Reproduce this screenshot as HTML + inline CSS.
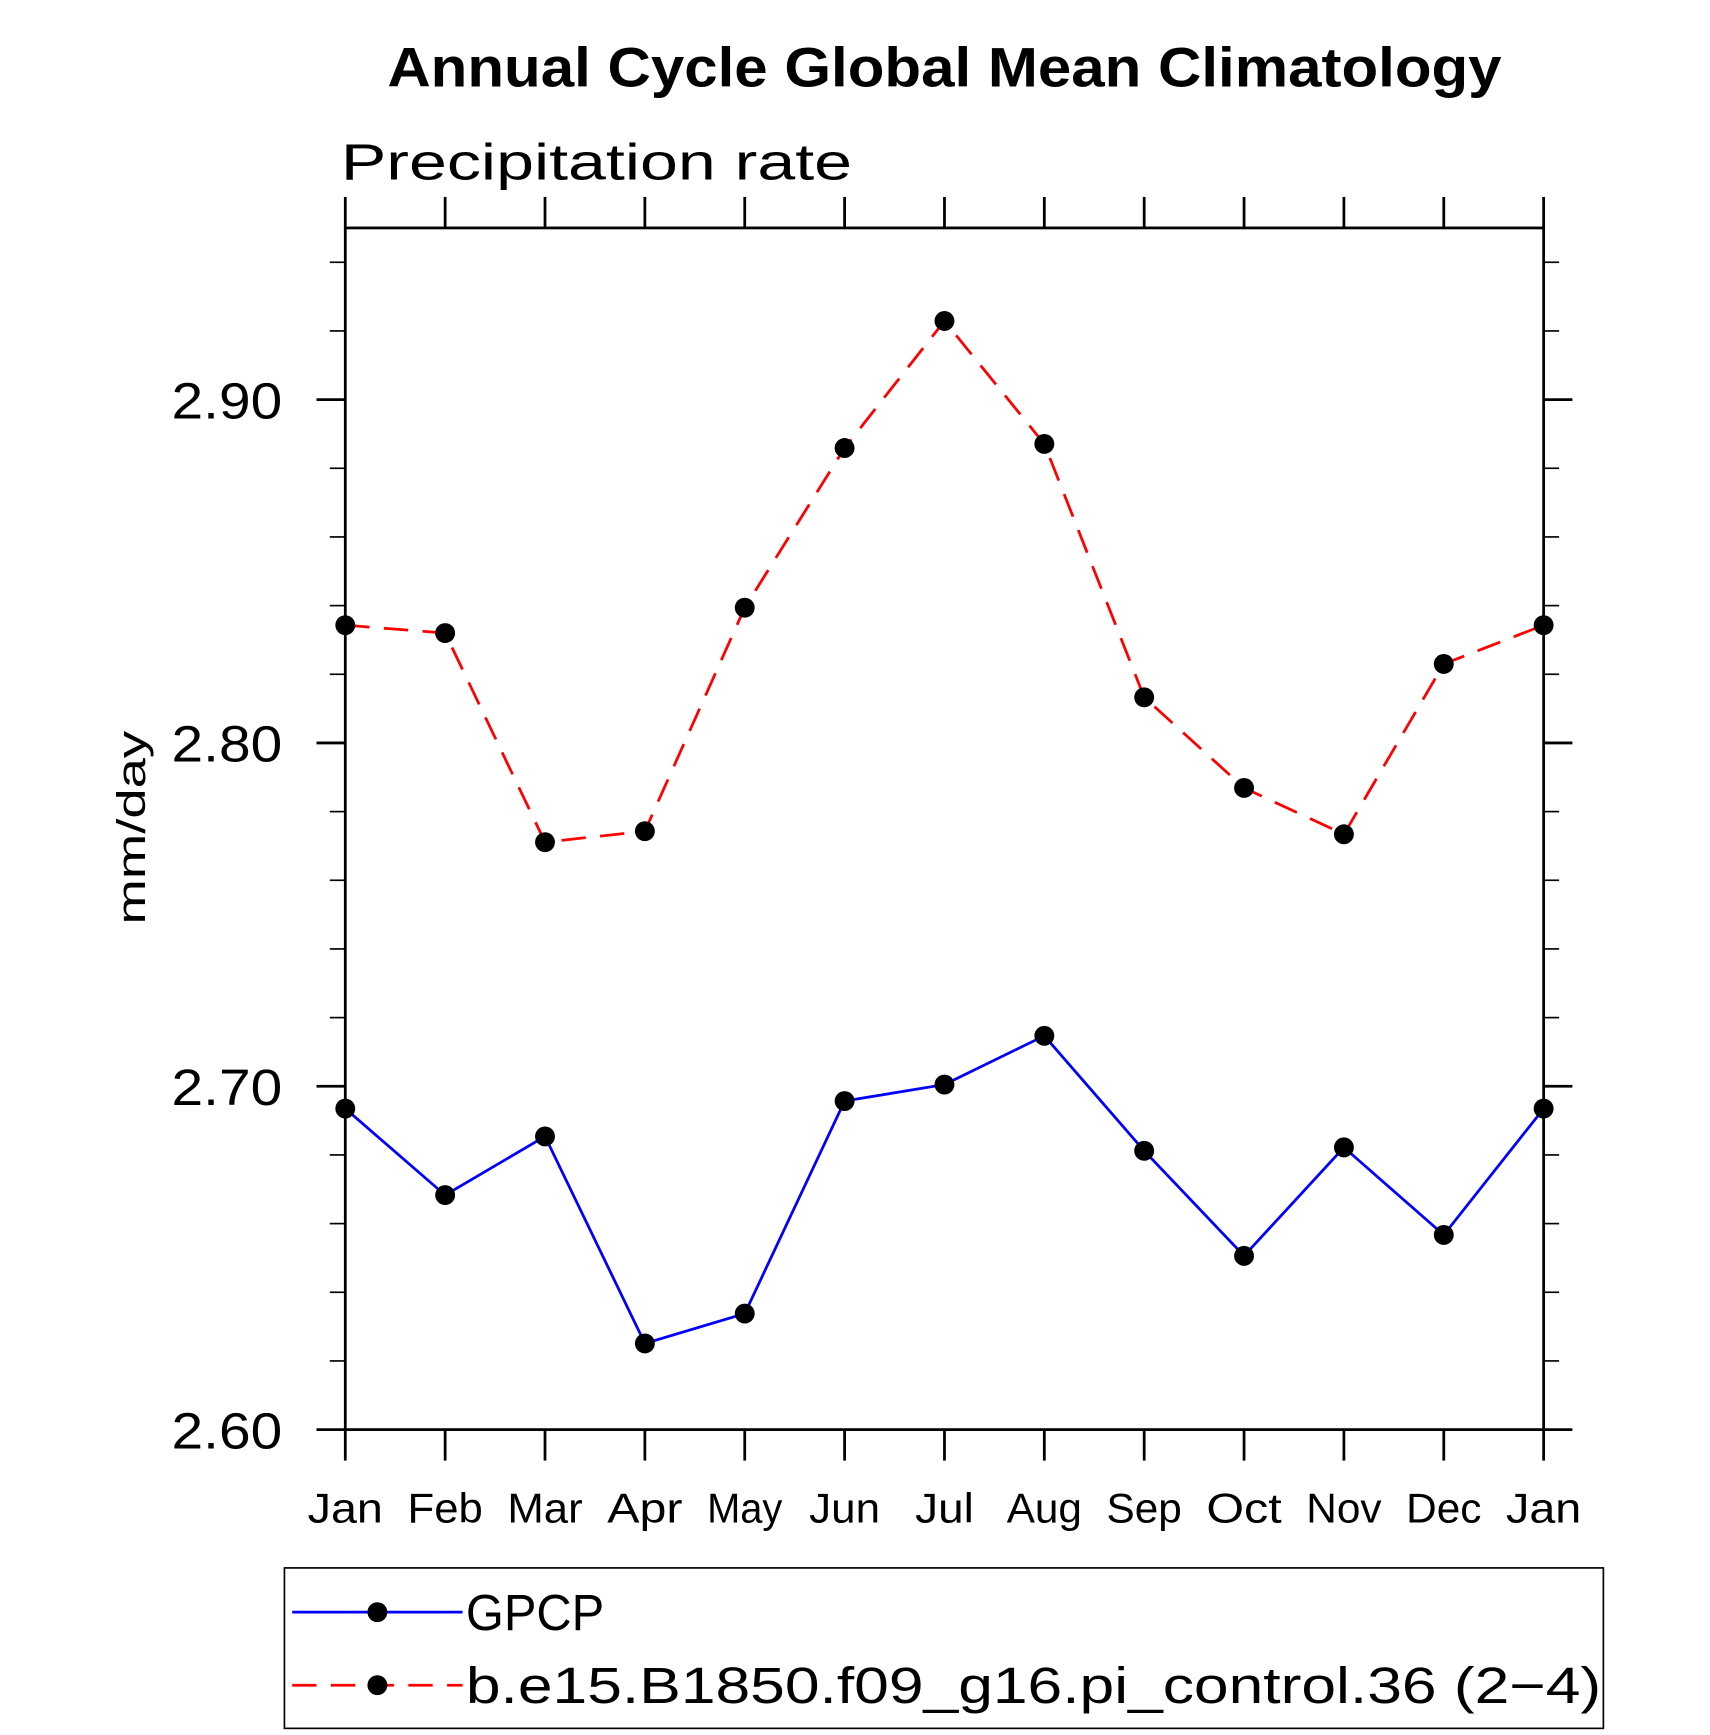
<!DOCTYPE html>
<html><head><meta charset="utf-8"><style>html,body{margin:0;padding:0;background:#fff}svg{display:block}text{font-family:"Liberation Sans",sans-serif}</style></head>
<body>
<svg id="chart" width="1710" height="1735" viewBox="0 0 1545.3 1568" xmlns="http://www.w3.org/2000/svg">
<text x="350" y="78" font-size="50" font-weight="bold" textLength="1007" lengthAdjust="spacingAndGlyphs">Annual Cycle Global Mean Climatology</text>
<text x="308" y="162" font-size="46" font-weight="300" textLength="462" lengthAdjust="spacingAndGlyphs">Precipitation rate</text>
<text transform="translate(131,748) rotate(-90)" text-anchor="middle" font-size="36" textLength="175" lengthAdjust="spacingAndGlyphs">mm/day</text>
<rect x="312" y="206" width="1083" height="1086" fill="none" stroke="#000" stroke-width="2.5"/>
<g id="axes"></g>
<g id="series"></g>
<rect x="257" y="1417" width="1192" height="145" fill="none" stroke="#000" stroke-width="1.5"/>
<g>
<line x1="264" y1="1457" x2="418" y2="1457" stroke="#0000ff" stroke-width="2.5"/>
<circle cx="341" cy="1457" r="9"/>
<text x="421" y="1473" font-size="46" font-weight="300" textLength="125" lengthAdjust="spacingAndGlyphs">GPCP</text>
</g>
<g>
<line x1="264" y1="1523" x2="418" y2="1523" stroke="#ff0000" stroke-width="2.5" stroke-dasharray="22,13"/>
<circle cx="341" cy="1523" r="9"/>
<text x="421" y="1539" font-size="46" font-weight="300" textLength="1026" lengthAdjust="spacingAndGlyphs">b.e15.B1850.f09_g16.pi_control.36 (2−4)</text>
</g>
</svg>
<script>
const months = ["Jan","Feb","Mar","Apr","May","Jun","Jul","Aug","Sep","Oct","Nov","Dec","Jan"];
const gpcpValues = [2.6935,2.6683,2.6854,2.6251,2.6338,2.6957,2.7005,2.7147,2.6812,2.6506,2.6822,2.6567,2.6935];
const modelValues = [2.8343,2.8320,2.7711,2.7743,2.8394,2.8859,2.9229,2.8871,2.8133,2.7869,2.7734,2.8230,2.8343];
const yTickLabels = ["2.60","2.70","2.80","2.90"];
const yMin = 2.60, yMax = 2.95;
const L=312,R=1395,T=206,B=1292;
const NS="http://www.w3.org/2000/svg";
function xs(i){return L+(R-L)*i/(months.length-1);}
function ys(v){return B-(v-yMin)/(yMax-yMin)*(B-T);}
function mk(tag,attrs,parent){const e=document.createElementNS(NS,tag);for(const k in attrs)e.setAttribute(k,attrs[k]);parent.appendChild(e);return e;}
const axes=document.getElementById('axes');
months.forEach((m,i)=>{
  const x=xs(i);
  const t1=mk('line',{x1:x,y1:B,x2:x,y2:B+28,stroke:'#000','stroke-width':2.5},axes);
  
  
  const t2=mk('line',{x1:x,y1:T,x2:x,y2:T-28,stroke:'#000','stroke-width':2.5},axes);
  
  
  const w = m==="Jul"?53:(m==="Jun"?64:68);
  const lb=mk('text',{x:x,y:1376,'text-anchor':'middle','font-size':38,'font-weight':300,textLength:w,lengthAdjust:'spacingAndGlyphs'},axes);
  lb.textContent=m;
  
  
});
for(let k=0;k<=17;k++){
  const v=yMin+k*0.02; const y=ys(v);
  const major=(k%5===0);
  const len=major?26:14;
  const a=mk('line',{x1:L-len,y1:y,x2:L,y2:y,stroke:'#000','stroke-width':major?2.5:1.5},axes);
  
  
  const b=mk('line',{x1:R,y1:y,x2:R+len,y2:y,stroke:'#000','stroke-width':major?2.5:1.5},axes);
  
  
}
yTickLabels.forEach(s=>{
  const y=ys(parseFloat(s));
  const t=mk('text',{x:155,y:y+17,'font-size':46,'font-weight':300,textLength:100,lengthAdjust:'spacingAndGlyphs'},axes);
  t.textContent=s;
  
  
});
const series=document.getElementById('series');
function draw(vals,color,dash,name){
  const pts=vals.map((v,i)=>xs(i)+','+ys(v)).join(' ');
  const pl=mk('polyline',{points:pts,fill:'none',stroke:color,'stroke-width':2.5,'stroke-dasharray':dash},series);
  
  
  vals.forEach((v,i)=>{
    const c=mk('circle',{cx:xs(i),cy:ys(v),r:9,fill:'#000'},series);
    
    
  });
}
draw(gpcpValues,'#0000ff','none','gpcp');
draw(modelValues,'#ff0000','22,13','model');
</script>
</body></html>
